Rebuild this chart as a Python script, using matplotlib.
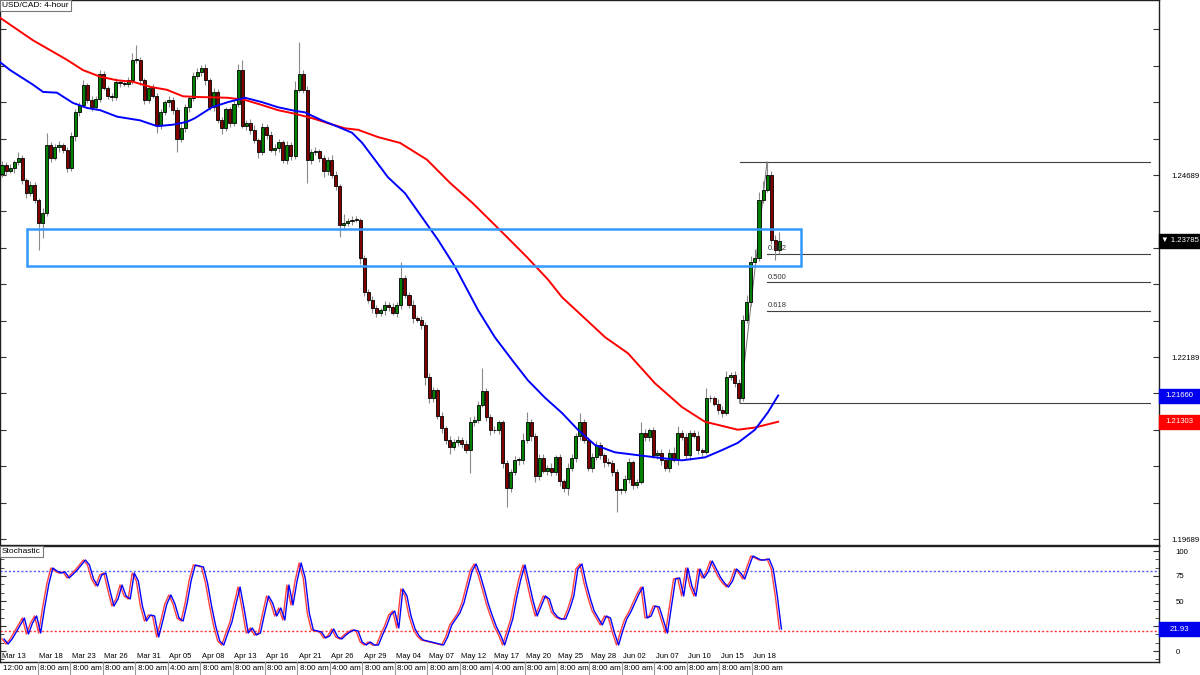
import numpy as np
import matplotlib.pyplot as plt
from matplotlib.patches import Rectangle
from matplotlib.lines import Line2D
from matplotlib.ticker import MultipleLocator

plt.rcParams['font.family'] = ['Liberation Sans', 'DejaVu Sans']

# ---- data ----
first_open = 1.2470
closes = [
    1.2483, 1.2474, 1.2478, 1.2487, 1.2492, 1.2462, 1.2444, 1.2455, 1.2435, 1.2403, 1.2417, 1.2510, 1.2492, 1.2507, 1.2510, 1.2503,
    1.2478, 1.2522, 1.2555, 1.2565, 1.2592, 1.2572, 1.2563, 1.2573, 1.2607, 1.2588, 1.2578, 1.2576, 1.2596, 1.2595, 1.2594, 1.2599,
    1.2627, 1.2627, 1.2599, 1.2572, 1.2588, 1.2578, 1.2537, 1.2555, 1.2569, 1.2572, 1.2558, 1.2518, 1.2533, 1.2562, 1.2574, 1.2605,
    1.2610, 1.2616, 1.2599, 1.2562, 1.2583, 1.2544, 1.2533, 1.2559, 1.2541, 1.2566, 1.2613, 1.2536, 1.2541, 1.2531, 1.2517, 1.2500,
    1.2535, 1.2524, 1.2503, 1.2506, 1.2514, 1.2490, 1.2510, 1.2495, 1.2586, 1.2607, 1.2586, 1.2490, 1.2500, 1.2502, 1.2492, 1.2474,
    1.2490, 1.2469, 1.2454, 1.2400, 1.2403, 1.2406, 1.2407, 1.2407, 1.2355, 1.2308, 1.2297, 1.2286, 1.2279, 1.2283, 1.2291, 1.2287,
    1.2280, 1.2290, 1.2327, 1.2304, 1.2291, 1.2272, 1.2270, 1.2263, 1.2191, 1.2162, 1.2173, 1.2138, 1.2121, 1.2105, 1.2095, 1.2102,
    1.2105, 1.2100, 1.2091, 1.2129, 1.2132, 1.2153, 1.2172, 1.2136, 1.2118, 1.2118, 1.2129, 1.2073, 1.2039, 1.2061, 1.2077, 1.2077,
    1.2105, 1.2129, 1.2110, 1.2055, 1.2080, 1.2063, 1.2067, 1.2061, 1.2081, 1.2048, 1.2039, 1.2067, 1.2080, 1.2111, 1.2129, 1.2105,
    1.2067, 1.2081, 1.2098, 1.2084, 1.2074, 1.2073, 1.2061, 1.2036, 1.2036, 1.2052, 1.2074, 1.2043, 1.2047, 1.2114, 1.2109, 1.2118,
    1.2084, 1.2087, 1.2077, 1.2066, 1.2087, 1.2077, 1.2114, 1.2109, 1.2084, 1.2114, 1.2111, 1.2091, 1.2088, 1.2162, 1.2162, 1.2155,
    1.2146, 1.2142, 1.2191, 1.2194, 1.2183, 1.2162, 1.2270, 1.2294, 1.2349, 1.2355, 1.2435, 1.2448, 1.2469, 1.2380, 1.2366, 1.2378,
]
# wick lengths beyond the body, in pips
wick_hi = [
    5, 4, 6, 3, 8, 4, 3, 5, 4, 3, 6, 16, 4, 5, 6, 3,
    4, 6, 5, 4, 8, 3, 5, 4, 6, 5, 3, 4, 6, 4, 5, 4,
    10, 20, 4, 3, 5, 6, 4, 5, 3, 6, 4, 5, 6, 4, 3, 5,
    6, 4, 5, 3, 6, 4, 5, 3, 4, 6, 8, 14, 4, 5, 6, 3,
    5, 4, 6, 5, 4, 3, 6, 4, 12, 45, 6, 5, 4, 6, 3, 5,
    4, 6, 5, 3, 12, 4, 6, 5, 3, 4, 5, 6, 4, 3, 5, 4,
    6, 4, 22, 5, 4, 6, 3, 5, 4, 6, 5, 4, 6, 3, 5, 4,
    6, 4, 5, 8, 6, 5, 32, 4, 5, 6, 4, 3, 5, 4, 6, 5,
    10, 14, 5, 4, 6, 5, 4, 6, 3, 5, 4, 6, 5, 4, 13, 5,
    4, 6, 5, 4, 3, 6, 5, 4, 3, 5, 6, 4, 5, 16, 6, 4,
    5, 4, 6, 3, 5, 8, 10, 4, 6, 5, 4, 6, 3, 15, 5, 4,
    6, 5, 8, 4, 5, 6, 6, 10, 8, 12, 10, 12, 18, 5, 6, 12,
]
wick_lo = [
    4, 5, 3, 6, 4, 5, 6, 4, 5, 37, 20, 4, 5, 3, 6, 4,
    5, 4, 6, 5, 3, 4, 6, 5, 4, 3, 5, 6, 4, 5, 3, 4,
    5, 4, 6, 5, 4, 3, 10, 5, 4, 6, 5, 18, 4, 5, 6, 3,
    4, 5, 6, 4, 5, 3, 8, 4, 6, 5, 4, 3, 5, 6, 4, 8,
    4, 5, 3, 6, 5, 4, 6, 5, 4, 3, 5, 32, 6, 4, 5, 8,
    5, 4, 6, 16, 5, 4, 6, 3, 8, 5, 4, 6, 5, 4, 6, 5,
    4, 6, 5, 4, 5, 6, 3, 5, 10, 6, 5, 4, 6, 5, 10, 4,
    5, 6, 4, 31, 5, 4, 3, 5, 6, 4, 5, 6, 26, 5, 4, 6,
    5, 4, 6, 8, 5, 4, 6, 5, 4, 6, 5, 10, 4, 5, 6, 4,
    5, 6, 4, 5, 6, 4, 5, 30, 5, 4, 6, 5, 4, 3, 5, 6,
    4, 5, 6, 4, 5, 3, 6, 4, 5, 6, 4, 5, 6, 3, 5, 4,
    5, 6, 3, 4, 5, 6, 3, 4, 5, 6, 4, 5, 3, 6, 14, 5,
]

# moving averages (candle index, price)
blue_ma_idx = [-0.5, 2.0, 7.6, 10.1, 13.5, 17.4, 20.9, 24.1, 28.3, 33.9, 38.1, 42.0, 45.5, 47.4,
               51.6, 55.5, 59.7, 63.9, 67.8, 72.0, 74.4, 78.6, 82.6, 86.0, 88.5, 91.6, 94.8, 99.0,
               107.1, 111.3, 117.0, 121.1, 125.3, 129.2, 133.4, 137.6, 141.5, 145.7, 150.6, 156.3,
               162.2, 167.1, 172.7, 176.9, 180.8, 185.0, 188.2, 190.7]
blue_ma = [1.2624, 1.2613, 1.2593, 1.2583, 1.2582, 1.2568, 1.2561, 1.2558, 1.2549, 1.2544, 1.2536, 1.2538, 1.2542, 1.2547,
           1.2562, 1.2569, 1.2575, 1.2569, 1.2562, 1.2557, 1.2555, 1.2544, 1.2535, 1.2527, 1.2513, 1.2490, 1.2466, 1.2444,
           1.2380, 1.2343, 1.2283, 1.2246, 1.2215, 1.2187, 1.2163, 1.2142, 1.2119, 1.2098, 1.2088, 1.2084,
           1.2080, 1.2077, 1.2081, 1.2091, 1.2101, 1.2119, 1.2143, 1.2166]
red_ma_idx = [-0.5, 7.6, 16.0, 19.9, 24.1, 28.3, 32.2, 36.4, 40.5, 44.5, 48.6, 55.5, 59.7, 63.9, 67.8,
              72.0, 76.2, 80.1, 84.3, 87.5, 92.4, 97.8, 104.4, 110.1, 115.7, 122.4, 129.0, 134.2,
              137.6, 143.2, 148.2, 153.8, 160.4, 167.1, 172.7, 180.8, 185.0, 190.7]
red_ma = [1.2685, 1.2654, 1.2627, 1.2613, 1.2604, 1.2599, 1.2597, 1.2590, 1.2586, 1.2577, 1.2576, 1.2575, 1.2572, 1.2565, 1.2558,
          1.2553, 1.2547, 1.2540, 1.2533, 1.2531, 1.2521, 1.2513, 1.2490, 1.2458, 1.2430, 1.2393, 1.2356, 1.2325,
          1.2301, 1.2272, 1.2246, 1.2224, 1.2183, 1.2150, 1.2130, 1.2119, 1.2122, 1.2130]

stoch_k = [
    12, 7, 12, 19, 26, 33, 17, 28, 35, 18, 44, 67, 83, 80, 78, 79,
    73, 77, 81, 86, 91, 86, 72, 65, 76, 78, 61, 45, 52, 66, 55, 52,
    78, 70, 45, 30, 36, 35, 14, 30, 47, 56, 47, 33, 30, 48, 71, 86,
    85, 84, 68, 45, 25, 10, 6, 18, 29, 47, 64, 42, 18, 23, 16, 18,
    37, 55, 48, 35, 43, 31, 66, 46, 70, 88, 73, 38, 21, 20, 19, 13,
    15, 22, 14, 12, 16, 19, 21, 20, 9, 6, 9, 6, 6, 16, 25, 36,
    40, 23, 62, 55, 35, 22, 15, 11, 10, 9, 8, 7, 6, 14, 26, 32,
    38, 48, 64, 80, 87, 76, 62, 47, 35, 24, 16, 6, 19, 32, 54, 72,
    86, 68, 50, 35, 45, 55, 52, 39, 34, 32, 32, 42, 55, 82, 87, 68,
    53, 40, 33, 26, 35, 33, 18, 6, 20, 32, 39, 48, 57, 64, 33, 35,
    45, 44, 31, 18, 45, 72, 73, 55, 83, 65, 55, 82, 73, 79, 90, 82,
    74, 68, 64, 70, 82, 78, 72, 84, 95, 93, 91, 91, 92, 82, 55, 22,
]

dates = ['Mar 13', 'Mar 18', 'Mar 23', 'Mar 26', 'Mar 31', 'Apr 05', 'Apr 08', 'Apr 13',
         'Apr 16', 'Apr 21', 'Apr 26', 'Apr 29', 'May 04', 'May 07', 'May 12', 'May 17',
         'May 20', 'May 25', 'May 28', 'Jun 02', 'Jun 07', 'Jun 10', 'Jun 15', 'Jun 18']
times = ['12:00 am', '8:00 am', '8:00 am', '8:00 am', '8:00 am', '4:00 am', '8:00 am', '8:00 am',
         '8:00 am', '8:00 am', '4:00 am', '8:00 am', '8:00 am', '8:00 am', '8:00 am', '4:00 am',
         '8:00 am', '8:00 am', '8:00 am', '8:00 am', '4:00 am', '8:00 am', '8:00 am', '8:00 am']

zone_lo, zone_hi = 1.2344, 1.2395
zone_from, zone_to = 6.1, 196.3
fib_low, fib_high = 1.2156, 1.2487
fib_levels = ['0.382', '0.500', '0.618']
last_price = 1.23785
blue_last, red_last = 1.21660, 1.21303
stoch_last = 21.93

# ---- layout (pixel based) ----
W, H = 1200, 675
PX = 4.07  # pixels per candle
fig = plt.figure(figsize=(W / 100, H / 100), dpi=100)
fig.patch.set_facecolor('white')
ax = fig.add_axes([0, 1 - 545 / H, 1159 / W, 545 / H])
ax2 = fig.add_axes([0, 13 / H, 1159 / W, 116 / H])
xmin, xmax = -0.49, (1159 - 2) / PX

c = np.array(closes)
o = np.concatenate([[first_open], c[:-1]])
hi = np.maximum(o, c) + np.array(wick_hi) * 1e-4
lo = np.minimum(o, c) - np.array(wick_lo) * 1e-4
x = np.arange(len(c))
up = c >= o

# candles
ax.vlines(x, lo, hi, color='#8a8a8a', lw=0.8, zorder=2)
body = np.maximum(np.abs(c - o), 0.00012)
ax.bar(x, body, bottom=np.minimum(o, c), width=0.75,
       color=np.where(up, '#008000', '#800000'), edgecolor='black',
       linewidth=0.6, zorder=3)

# moving averages
ax.plot(red_ma_idx, red_ma, color='#ff0000', lw=1.4, zorder=4)
ax.plot(blue_ma_idx, blue_ma, color='#0000ff', lw=1.4, zorder=4)

# support zone
ax.add_patch(Rectangle((zone_from, zone_lo), zone_to - zone_from, zone_hi - zone_lo,
                       fill=False, edgecolor='#3399ff', lw=1.8, zorder=5))

# fibonacci retracement
fib_start, fib_lvl_start, fib_end = (740 - 2) / PX, (767 - 2) / PX, (1150 - 2) / PX
ax.plot([fib_start, fib_end], [fib_high, fib_high], color='#404040', lw=0.8, zorder=1)
ax.plot([fib_start, fib_end], [fib_low, fib_low], color='#404040', lw=0.8, zorder=1)
ax.plot([fib_start, fib_lvl_start], [fib_low, fib_high], color='#707070', lw=0.7, zorder=1)
for lvl in fib_levels:
    p = fib_high - float(lvl) * (fib_high - fib_low)
    ax.plot([fib_lvl_start, fib_end], [p, p], color='#404040', lw=0.8, zorder=1)
    ax.text(fib_lvl_start + 0.3, p + 0.0002, lvl, fontsize=5.5, color='#333333',
            ha='left', va='bottom', zorder=6)

ax.set_xlim(xmin, xmax)
ax.set_ylim(1.27093 - 545 / 7280, 1.27093)
yt = [1.24689 + 0.005 * k for k in range(-10, 5)]
ax.set_yticks(yt)
ax.set_yticklabels(['%.5f' % v if k in (0, -5, -10) else '' for k, v in zip(range(-10, 5), yt)])
ax.set_xticks([])
ax.tick_params(axis='y', direction='in', left=True, right=True, labelleft=False,
               labelright=True, length=4, pad=9, labelsize=5.6, color='#333333')
for s in ax.spines.values():
    s.set_color('#202020')
    s.set_linewidth(1)

# price tags on the right
def tag(axis, y, h, text, fc):
    tr = axis.get_yaxis_transform()
    axis.add_patch(Rectangle((1.0, y - h / 2), 41 / 1159, h, transform=tr,
                             facecolor=fc, edgecolor=fc, clip_on=False, zorder=10))
    axis.text(1.0 + 20.5 / 1159, y, text, transform=tr, color='white', fontsize=5.6,
              ha='center', va='center', clip_on=False, zorder=11)

tag(ax, last_price, 14 / 7280, u'\u25bc %.5f' % last_price, 'black')
tag(ax, blue_last, 14 / 7280, '%.5f' % blue_last, '#0000ee')
tag(ax, red_last, 14 / 7280, '%.5f' % red_last, '#ff0000')

# stochastic
ax2.plot(x, stoch_k, color='#ff4040', lw=1.0, zorder=3)
ax2.plot(x + 0.5, stoch_k, color='#0000ff', lw=1.0, zorder=4)
ax2.axhline(80, color='#5555ff', lw=1, ls=(0, (1.5, 1.5)), zorder=2)
ax2.axhline(20, color='#ff3030', lw=1, ls=(0, (1.5, 1.5)), zorder=2)
ax2.set_xlim(xmin, xmax)
ax2.set_ylim(-11, 105)
ax2.set_xticks([])
ax2.set_yticks([0, 25, 50, 75, 100])
ax2.set_yticklabels(['0', '', '50', '75', '100'])
ax2.yaxis.set_minor_locator(MultipleLocator(100 / 12))
ax2.tick_params(axis='y', which='both', direction='in', left=True, right=True,
                labelleft=False, labelright=True, length=4, pad=12, labelsize=5.6,
                color='#333333')
ax2.tick_params(axis='y', which='minor', length=3)
for s in ax2.spines.values():
    s.set_color('#202020')
    s.set_linewidth(1)
tag(ax2, stoch_last, 14, '%.2f' % stoch_last, '#0000ee')

# header boxes
fig.text(2 / W, 1 - 2 / H, 'USD/CAD: 4-hour', fontsize=6, ha='left', va='top',
         bbox=dict(boxstyle='square,pad=0.25', fc='white', ec='#777777', lw=0.8))
fig.text(2 / W, 1 - 548 / H, 'Stochastic', fontsize=6, ha='left', va='top',
         bbox=dict(boxstyle='square,pad=0.25', fc='white', ec='#777777', lw=0.8))

# date and time rows
date_px = [2] + [39.3 + 32.45 * (k - 1) for k in range(1, len(dates))]
for k, (d, t) in enumerate(zip(dates, times)):
    fig.text(date_px[k] / W, 1 - 656 / H, d, fontsize=5.5, ha='left', va='center')
    fig.text((date_px[k] + 1) / W, 1 - 668.5 / H, t, fontsize=5.8, ha='left', va='center')
    if k > 0:
        fig.add_artist(Line2D([(date_px[k] - 1.5) / W] * 2, [0, 13 / H],
                              color='#999999', lw=0.8))

plt.savefig('out.png', dpi=100)
